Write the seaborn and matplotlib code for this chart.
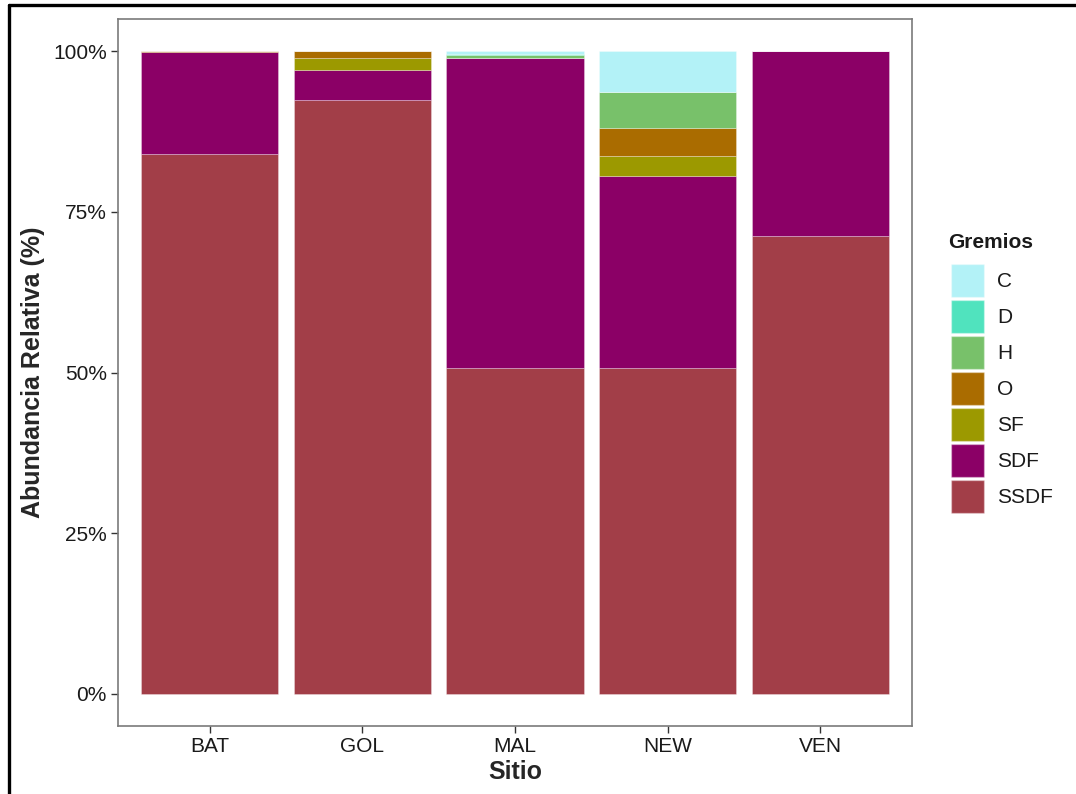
import matplotlib
matplotlib.use("Agg")
import matplotlib.pyplot as plt
import pandas as pd
import seaborn as sns
from matplotlib import ticker
from matplotlib.patches import Patch
from matplotlib.lines import Line2D

sns.set_style("white")
plt.rcParams['font.family'] = ['Liberation Sans', 'DejaVu Sans']

# relative abundance (%) per site and guild
sitios = ["BAT", "GOL", "MAL", "NEW", "VEN"]
gremios = ["C", "D", "H", "O", "SF", "SDF", "SSDF"]
C = [0.0, 0.0, 0.5, 6.3, 0.0]
D = [0.0, 0.0, 0.1, 0.0, 0.0]
H = [0.0, 0.0, 0.5, 5.7, 0.0]
O = [0.1, 1.1, 0.0, 4.3, 0.0]
SF = [0.1, 1.8, 0.0, 3.1, 0.0]
SDF = [15.8, 4.7, 48.2, 29.9, 28.8]
SSDF = [84.0, 92.4, 50.7, 50.7, 71.2]
colores = ["#B3F2F7", "#50E3BE", "#78C16A", "#AA6C00", "#9C9900", "#8B0066", "#A23E48"]

valores = {"C": C, "D": D, "H": H, "O": O, "SF": SF, "SDF": SDF, "SSDF": SSDF}
rows = []
for g in gremios:
    for s, v in zip(sitios, valores[g]):
        rows.append({"Sitio": s, "Gremio": g, "Abundancia": v})
data = pd.DataFrame(rows)
paleta = dict(zip(gremios, colores))

fig = plt.figure(figsize=(10.76, 7.94), dpi=100)
ax = fig.add_axes([118 / 1076, 1 - 726 / 794, (912 - 118) / 1076, (726 - 19) / 794])

sns.histplot(data=data, x="Sitio", hue="Gremio", weights="Abundancia",
             multiple="stack", discrete=True, shrink=0.9,
             hue_order=gremios, palette=paleta, alpha=1,
             edgecolor=(1, 1, 1, 0.35), linewidth=0.6, legend=False, ax=ax)

ax.set_xlim(-0.6, len(sitios) - 0.4)
ax.set_ylim(-5, 105)
ax.set_yticks([0, 25, 50, 75, 100])
ax.yaxis.set_major_formatter(ticker.PercentFormatter(xmax=100, decimals=0))
ax.tick_params(axis="both", length=5, width=1, color="#333333", labelsize=15,
               labelcolor="#1a1a1a", direction="out", bottom=True, left=True, pad=3)
for sp in ax.spines.values():
    sp.set_color("#7a7a7a")
    sp.set_linewidth(1.2)
ax.grid(False)

ax.set_xlabel("Sitio", fontsize=18, fontweight="bold", labelpad=3)
ax.set_ylabel("Abundancia Relativa (%)", fontsize=18, fontweight="bold", labelpad=6)

# legend (title drawn separately so its spacing matches the reference)
fig.text(948 / 1076, 1 - 243 / 794, "Gremios", fontsize=15, fontweight="bold",
         ha="left", va="center", color="#1a1a1a")
handles = [Patch(facecolor=paleta[g], edgecolor=(1, 1, 1, 0.35), label=g) for g in gremios]
leg = fig.legend(handles=handles, loc="upper left",
                 bbox_to_anchor=(951 / 1076, 1 - 264 / 794), frameon=False,
                 fontsize=15, handlelength=1.6, handleheight=2.06, labelspacing=0.144,
                 handletextpad=0.62, borderaxespad=0, borderpad=0)
for t in leg.get_texts():
    t.set_color("#1a1a1a")

# outer frame of the screenshot
fig.add_artist(Line2D([9 / 1076, 9 / 1076], [0, 1 - 5 / 794], color="black", lw=2.4,
                      transform=fig.transFigure))
fig.add_artist(Line2D([9 / 1076, 1], [1 - 5 / 794, 1 - 5 / 794], color="black", lw=2.4,
                      transform=fig.transFigure))

plt.savefig("out.png", dpi=100)
